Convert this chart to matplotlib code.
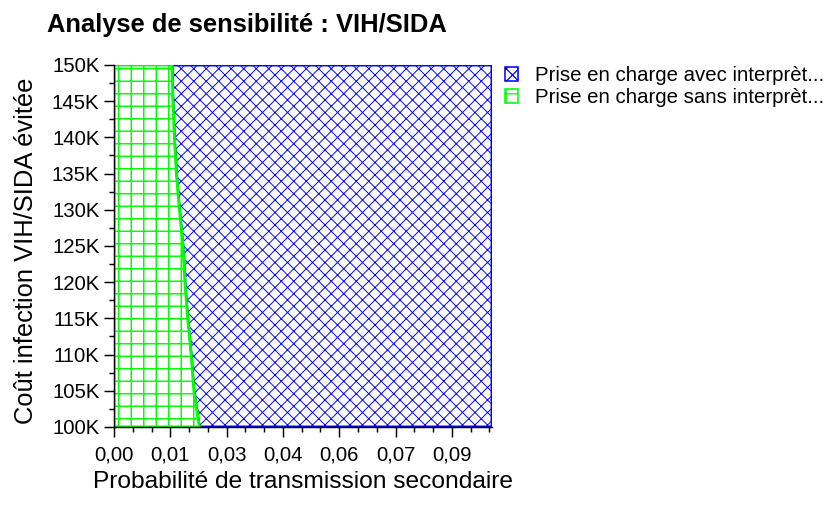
import matplotlib
matplotlib.use("Agg")
import matplotlib.pyplot as plt
import numpy as np
from matplotlib.patches import Patch
from matplotlib.ticker import FixedLocator, FuncFormatter

# ---- data ----
cost_k = [100, 105, 110, 115, 120, 125, 130, 135, 140, 145, 150]          # y (K)
boundary_prob = [0.0219, 0.0205, 0.0198, 0.0189, 0.0182, 0.0177, 0.0168,
                 0.0160, 0.0155, 0.0151, 0.0149]                          # x at boundary
x_max = 0.097
x_tick_step = 0.01445
series_labels = ["Prise en charge avec interprèt...", "Prise en charge sans interprèt..."]
title = "Analyse de sensibilité : VIH/SIDA"
xlabel = "Probabilité de transmission secondaire"
ylabel = "Coût infection VIH/SIDA évitée"

DPI = 75
plt.rcParams['font.family'] = ['Liberation Sans', 'DejaVu Sans']
plt.rcParams['hatch.linewidth'] = 1.2

fig = plt.figure(figsize=(829 / DPI, 506 / DPI), dpi=DPI)
ax = fig.add_axes([114 / 829, 1 - 427 / 506, (492 - 114) / 829, (427 - 65) / 506])

y = np.array(cost_k) * 1000
bx = np.array(boundary_prob)

blue = '#0000ff'
green = '#00ff00'
with plt.rc_context({'hatch.linewidth': 0.9}):
    ax.fill_betweenx(y, bx, x_max, facecolor='white', edgecolor=blue, hatch='xx',
                     linewidth=2.8, zorder=1)
with plt.rc_context({'hatch.linewidth': 1.4}):
    ax.fill_betweenx(y, 0, bx, facecolor='white', edgecolor=green, hatch='+',
                     linewidth=2.8, zorder=2)

ax.set_xlim(0, x_max)
ax.set_ylim(100000, 150000)

for s in ['top', 'right']:
    ax.spines[s].set_visible(False)
for s in ['left', 'bottom']:
    ax.spines[s].set_color('black')
    ax.spines[s].set_linewidth(1.4)
    ax.spines[s].set_zorder(5)

xt = [k * x_tick_step for k in range(7)]
ax.xaxis.set_major_locator(FixedLocator(xt))
ax.xaxis.set_minor_locator(FixedLocator([k * x_tick_step / 3 for k in range(21) if k % 3]))
ax.xaxis.set_major_formatter(FuncFormatter(lambda v, p: f"{v:.2f}".replace('.', ',')))
ax.yaxis.set_major_locator(FixedLocator(np.arange(100000, 150001, 5000)))
ax.yaxis.set_minor_locator(FixedLocator(np.arange(102500, 150000, 5000)))
ax.yaxis.set_major_formatter(FuncFormatter(lambda v, p: f"{int(round(v / 1000))}K"))

ax.tick_params(which='major', length=10, width=1.4, labelsize=19.5, color='black')
ax.tick_params(which='minor', length=4.8, width=1.4, color='black')
ax.tick_params(axis='x', which='major', pad=7.5)
ax.tick_params(axis='y', which='major', pad=4)

ax.set_xlabel(xlabel, fontsize=23.5)
ax.xaxis.set_label_coords(0.5, -0.122)
ax.set_ylabel(ylabel, fontsize=24.5)
ax.yaxis.set_label_coords(-0.201, 0.486)
fig.text(47 / 829, 1 - 32 / 506, title, fontsize=24.5, fontweight='bold', ha='left', va='baseline')

with plt.rc_context({'hatch.linewidth': 1.0}):
    handles = [Patch(facecolor='white', edgecolor=blue, hatch='xx', linewidth=1.5),
               Patch(facecolor='white', edgecolor=green, hatch='+', linewidth=1.5)]
leg = fig.legend(handles, series_labels, loc='upper left',
                 bbox_to_anchor=(505 / 829, 1 - 66 / 506), frameon=False,
                 fontsize=19.5, handlelength=0.65, handleheight=0.65,
                 handletextpad=0.85, labelspacing=0.15, borderaxespad=0, borderpad=0)

fig.savefig('out.png', dpi=DPI)
